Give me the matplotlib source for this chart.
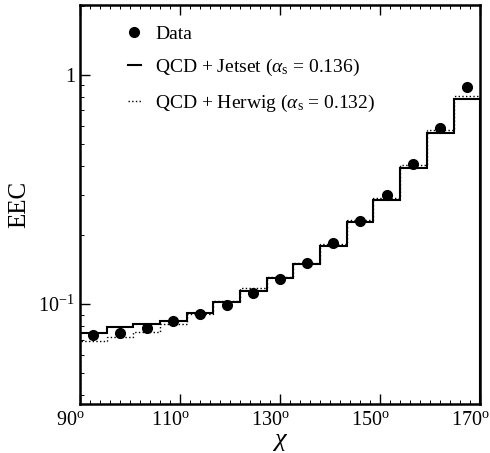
import matplotlib
matplotlib.use("Agg")
import matplotlib.pyplot as plt
import matplotlib.transforms as mtransforms
import numpy as np

plt.rcParams['font.family'] = ['Liberation Serif', 'DejaVu Serif']
plt.rcParams['mathtext.fontset'] = 'custom'
plt.rcParams['mathtext.rm'] = 'Liberation Serif'
plt.rcParams['mathtext.it'] = 'Liberation Serif:italic'

# bin edges in chi (degrees), 15 bins between 90 and 170
edges = np.linspace(90, 170, 16)
centers = 0.5 * (edges[:-1] + edges[1:])

data = [0.0732, 0.0749, 0.0783, 0.0843, 0.0902, 0.0990, 0.1120, 0.1286,
        0.1515, 0.1852, 0.2311, 0.2992, 0.4088, 0.585, 0.884]
jetset = [0.0745, 0.0791, 0.0820, 0.0843, 0.0911, 0.1023, 0.1136, 0.1295,
          0.1495, 0.1797, 0.2288, 0.2845, 0.3937, 0.5598, 0.7855]
herwig = [0.0691, 0.0720, 0.0757, 0.0815, 0.0902, 0.1034, 0.1171, 0.1316,
          0.1515, 0.1823, 0.2327, 0.2894, 0.4046, 0.5751, 0.812]

xticks = [90, 110, 130, 150, 170]

fig = plt.figure(figsize=(4.9, 4.53), dpi=100)
ax = fig.add_axes([0.163, 0.108, 0.817, 0.881])

ax.stairs(jetset, edges, color='black', lw=1.5,
          label=r'QCD + Jetset ($\alpha_{\rm s}$ = 0.136)')
ax.stairs(herwig, edges, color='black', lw=1.0, linestyle=':',
          label=r'QCD + Herwig ($\alpha_{\rm s}$ = 0.132)')
ax.plot(centers, data, 'o', color='black', ms=7, label='Data')

ax.set_yscale('log')
ax.set_xlim(90, 170)
ax.set_ylim(0.0366, 2.02)

ax.set_xticks(xticks)
ax.set_xticklabels([r'%d$^{\rm o}$' % t for t in xticks])
ax.set_xticks(np.arange(90, 171, 2), minor=True)
ax.set_yticks([0.1, 1])
ax.set_yticklabels([r'10$^{-1}$', '1'])
ax.tick_params(which='both', direction='in', top=True, labelsize=14.5)
ax.tick_params(which='major', length=7, width=1)
ax.tick_params(which='minor', length=3, width=0.7)
ax.tick_params(axis='y', which='minor', labelleft=False)
ax.tick_params(axis='x', pad=5)

# x tick labels sit a little left of their ticks in the original
shift = mtransforms.ScaledTranslation(-7 / 72, 0, fig.dpi_scale_trans)
for lab in ax.get_xticklabels():
    lab.set_transform(lab.get_transform() + shift)

for s in ax.spines.values():
    s.set_linewidth(1.8)

ax.set_xlabel(r'$\chi$', fontsize=19, labelpad=1)
ax.set_ylabel('EEC', fontsize=18, labelpad=6)

h, l = ax.get_legend_handles_labels()
order = [2, 0, 1]
ax.legend([h[i] for i in order], [l[i] for i in order], loc='upper left',
          frameon=False, fontsize=14, handlelength=0.65, handletextpad=0.75,
          labelspacing=0.75, borderpad=0, borderaxespad=0,
          bbox_to_anchor=(0.12, 0.95))

fig.savefig('out.png', dpi=100)
